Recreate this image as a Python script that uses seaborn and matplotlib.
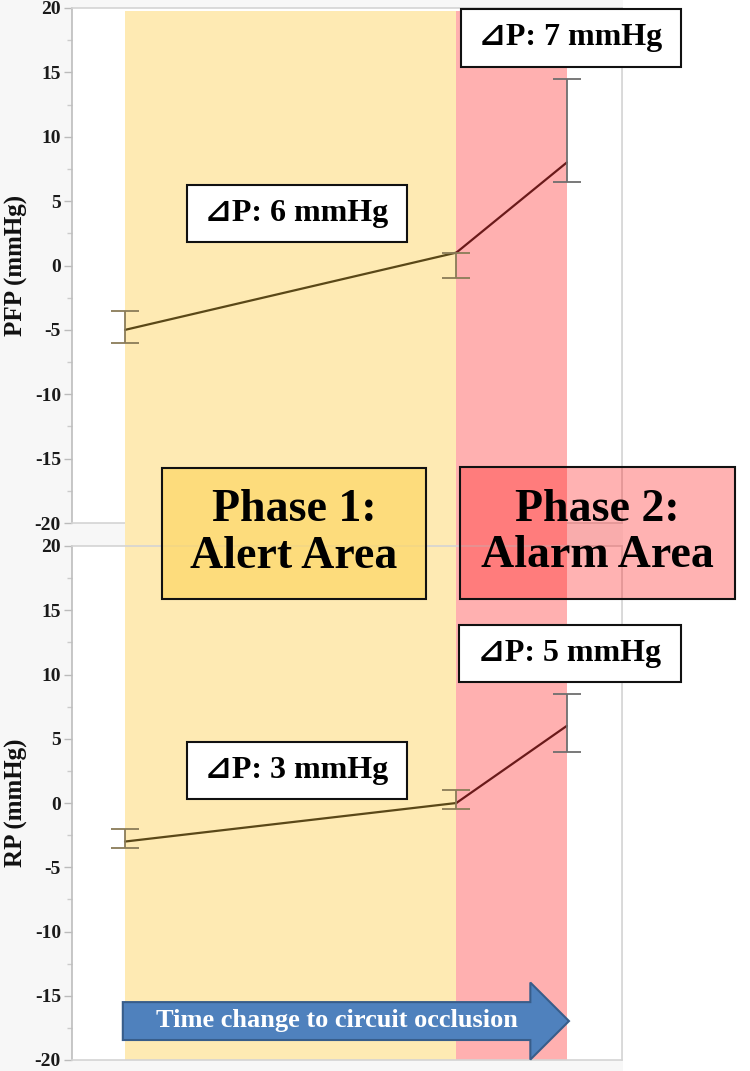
import pandas as pd
import matplotlib.pyplot as plt
import matplotlib.colors as mcolors
import seaborn as sns
from matplotlib.patches import Rectangle, FancyArrow
from matplotlib.ticker import MultipleLocator

# values
time_pts = [1, 4, 5]
pfp_mean = [-5, 1, 8]
pfp_low = [-6, -1, 6.5]
pfp_high = [-3.5, 1, 14.5]
rp_mean = [-3, 0, 6]
rp_low = [-3.5, -0.5, 4]
rp_high = [-2, 1, 8.5]
phase_names = ['Phase 1', 'Phase 2']
phase_labels = ['Phase 1:\nAlert Area', 'Phase 2:\nAlarm Area']
delta_pfp = ['\u22bfP: 6 mmHg', '\u22bfP: 7 mmHg']
delta_rp = ['\u22bfP: 3 mmHg', '\u22bfP: 5 mmHg']
y_ticks = [-20, -15, -10, -5, 0, 5, 10, 15, 20]
arrow_label = 'Time change to circuit occlusion'

sns.set_theme(style='white')
plt.rcParams['font.family'] = ['Liberation Serif', 'DejaVu Serif', 'DejaVu Sans']
plt.rcParams['font.weight'] = 'bold'
plt.rcParams['axes.unicode_minus'] = False

W, H = 750, 1071
yellow = '#feeab3'
red = '#ffb0b0'


def fx(px):
    return px / W


def fy(py):
    return 1 - py / H


def segments(mean):
    rows = []
    for i, ph in enumerate(phase_names):
        for j in (i, i + 1):
            rows.append({'time': time_pts[j], 'value': mean[j], 'phase': ph})
    return pd.DataFrame(rows)


fig = plt.figure(figsize=(7.5, 10.71), dpi=100, facecolor='#f7f7f7')
# white strip on the right side
fig.add_artist(Rectangle((fx(623), 0), 1 - fx(623), 1, transform=fig.transFigure,
                         fc='white', lw=0, zorder=-1))

ax_top = fig.add_axes([fx(72), fy(523), fx(622) - fx(72), fy(8) - fy(523)])
ax_bot = fig.add_axes([fx(72), fy(1060), fx(622) - fx(72), fy(546) - fy(1060)])


def draw_panel(ax, mean, low, high, ylabel, top):
    ax.set_facecolor('white')
    ext = 0.047
    lo, hi = (-ext, 0.994) if top else (0, 1 + ext)
    ax.axvspan(time_pts[0], time_pts[1], ymin=lo, ymax=hi, color=yellow, lw=0,
               clip_on=False, zorder=0)
    ax.axvspan(time_pts[1], time_pts[2], ymin=lo, ymax=hi, color=red, lw=0,
               clip_on=False, zorder=0)

    sns.lineplot(data=segments(mean), x='time', y='value', hue='phase',
                 palette={'Phase 1': '#5a4818', 'Phase 2': '#6a1a1a'},
                 estimator=None, legend=False, lw=1.6, ax=ax, zorder=3)

    err_colors = ['#8a7c58', '#8a7c58', '#6e6e6e']
    for i, t in enumerate(time_pts):
        ax.errorbar(t, mean[i], yerr=[[mean[i] - low[i]], [high[i] - mean[i]]],
                    fmt='none', ecolor=err_colors[i], elinewidth=1.3,
                    capsize=10, capthick=1.3, zorder=3)

    ax.set_xlim(0.52, 5.5)
    ax.set_ylim(-20, 20)
    ax.set_xticks([])
    ax.set_xlabel('')
    ax.set_yticks(y_ticks)
    ax.set_yticklabels([str(v) for v in y_ticks])
    ax.yaxis.set_minor_locator(MultipleLocator(2.5))
    ax.tick_params(axis='y', which='major', left=True, length=6, width=1,
                   color='#bbbbbb', labelsize=14, labelcolor='#1a1a1a', pad=2)
    ax.tick_params(axis='y', which='minor', left=True, length=3.5, width=1,
                   color='#cccccc')
    for lab in ax.get_yticklabels():
        lab.set_fontweight('bold')
    for name, sp in ax.spines.items():
        sp.set_color('#bdbdbd' if name == 'left' else '#d4d4d4')
        sp.set_linewidth(1.2)
    ax.set_ylabel(ylabel, fontsize=18, fontweight='bold', color='#111111')
    ax.yaxis.set_label_coords(-0.08, 0.5)


draw_panel(ax_top, pfp_mean, pfp_low, pfp_high, 'PFP (mmHg)', True)
draw_panel(ax_bot, rp_mean, rp_low, rp_high, 'RP (mmHg)', False)


def fig_box(x0, y0, x1, y1, fc, alpha=1.0, lw=1.5):
    fig.add_artist(Rectangle((fx(x0), fy(y1)), fx(x1) - fx(x0), fy(y0) - fy(y1),
                             transform=fig.transFigure,
                             fc=mcolors.to_rgba(fc, alpha), ec='#111111',
                             lw=lw, zorder=5))


def fig_label(x0, y0, x1, y1, text, size, fc, alpha=1.0, ls=1.2):
    fig_box(x0, y0, x1, y1, fc, alpha)
    fig.text(fx((x0 + x1) / 2), fy((y0 + y1) / 2), text, ha='center', va='center',
             fontsize=size, fontweight='bold', color='black', linespacing=ls,
             zorder=6)


# delta P boxes
fig_label(187, 185, 407, 242, delta_pfp[0], 23, 'white')
fig_label(461, 9, 681, 67, delta_pfp[1], 23, 'white')
fig_label(187, 742, 407, 799, delta_rp[0], 23, 'white')
fig_label(459, 625, 681, 682, delta_rp[1], 23, 'white')

# phase boxes
fig_label(162, 468, 426, 599, phase_labels[0], 33, '#fdd86a', alpha=0.75, ls=1.15)
fig_label(460, 467, 735, 599, phase_labels[1], 33, '#ff1010', alpha=0.32, ls=1.15)

# time arrow in the lower panel
arrow = FancyArrow(0.98, -16.97, 4.04, 0, width=2.95, head_width=6.0,
                   head_length=0.35, length_includes_head=True,
                   fc='#4f81bd', ec='#385d8a', lw=1.5, zorder=4, clip_on=False)
ax_bot.add_patch(arrow)
ax_bot.text(2.92, -16.9, arrow_label, ha='center', va='center', fontsize=19,
            fontweight='bold', color='white', zorder=5)

fig.savefig('out.png', dpi=100, facecolor=fig.get_facecolor())
